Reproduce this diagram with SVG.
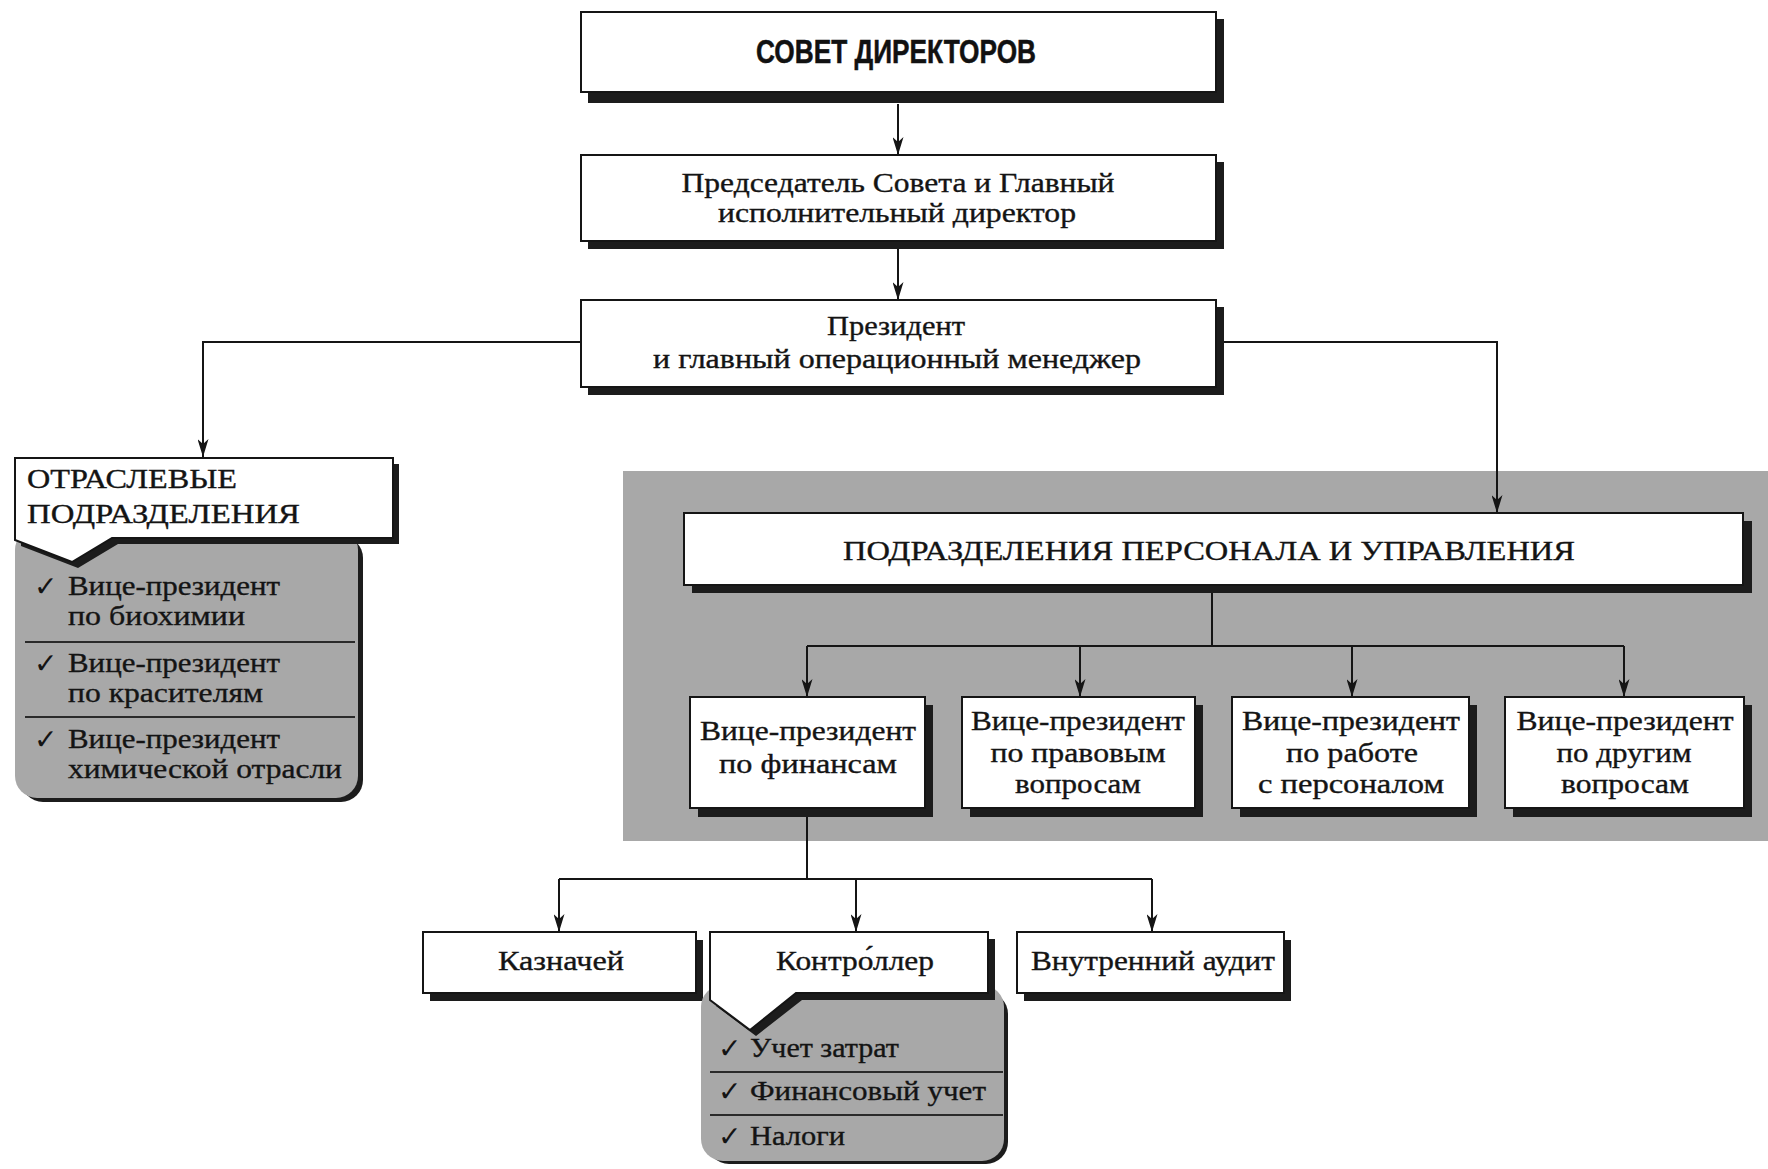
<svg xmlns="http://www.w3.org/2000/svg" width="1768" height="1169" viewBox="0 0 1768 1169">
<defs>
<style>
.box{fill:#fff;stroke:#151515;stroke-width:2}
.sh{fill:#1c1c1c}
.gray{fill:#a8a8a8}
.t{font-family:"Liberation Serif","Times New Roman",serif;font-size:27px;fill:#141414;text-anchor:middle;stroke:#141414;stroke-width:0.35}
.tl{font-family:"Liberation Serif","Times New Roman",serif;font-size:27px;fill:#141414;text-anchor:start;stroke:#141414;stroke-width:0.35}
.ck{font-family:"DejaVu Sans",sans-serif;font-size:28px;fill:#141414}
.sep{stroke:#2a2a2a;stroke-width:2}
.conn{stroke:#151515;stroke-width:2;fill:none}
.arr{stroke:#151515;stroke-width:2;fill:none;marker-end:url(#ah)}
</style>
<marker id="ah" viewBox="0 0 18 11" refX="18" refY="5.5" markerWidth="18" markerHeight="11" markerUnits="userSpaceOnUse" orient="auto">
<path d="M0,0 L18,5.5 L0,11 L5,5.5 Z" fill="#151515"/>
</marker>
</defs>
<rect width="1768" height="1169" fill="#fff"/>

<g id="staff-panel">
<rect x="623" y="471" width="1145" height="370" class="gray"/>
</g>

<g id="connectors">
<path class="arr" d="M898,104 V155"/>
<path class="arr" d="M898,249 V300"/>
<path class="arr" d="M581,342 H203 V457"/>
<path class="arr" d="M1216,342 H1497 V513"/>
<path class="conn" d="M1212,593 V646 M807,646 H1624"/>
<path class="arr" d="M807,646 V697"/>
<path class="arr" d="M1080,646 V697"/>
<path class="arr" d="M1352,646 V697"/>
<path class="arr" d="M1624,646 V697"/>
<path class="conn" d="M807,817 V879 M559,879 H1152"/>
<path class="arr" d="M559,879 V932"/>
<path class="arr" d="M856,879 V932"/>
<path class="arr" d="M1152,879 V932"/>
</g>

<g id="board">
<rect x="588" y="19" width="636" height="84" class="sh"/>
<rect x="581" y="12" width="635" height="80" class="box"/>
<text x="896" y="63" font-family="Liberation Sans,Arial,sans-serif" font-weight="bold" font-size="33" fill="#111" stroke="#111" stroke-width="0.5" text-anchor="middle" textLength="280" lengthAdjust="spacingAndGlyphs">СОВЕТ ДИРЕКТОРОВ</text>
</g>

<g id="chairman">
<rect x="588" y="162" width="636" height="87" class="sh"/>
<rect x="581" y="155" width="635" height="86" class="box"/>
<text x="898" y="192" class="t" textLength="433" lengthAdjust="spacingAndGlyphs">Председатель Совета и Главный</text>
<text x="897" y="222" class="t" textLength="358" lengthAdjust="spacingAndGlyphs">исполнительный директор</text>
</g>

<g id="president">
<rect x="588" y="307" width="636" height="88" class="sh"/>
<rect x="581" y="300" width="635" height="87" class="box"/>
<text x="896" y="335" class="t" textLength="138" lengthAdjust="spacingAndGlyphs">Президент</text>
<text x="897" y="368" class="t" textLength="488" lengthAdjust="spacingAndGlyphs">и главный операционный менеджер</text>
</g>

<g id="line-divisions">
<rect x="21" y="536" width="342" height="266" rx="22" class="sh"/>
<rect x="15" y="528" width="343" height="270" rx="22" class="gray"/>
<line x1="25" y1="642" x2="355" y2="642" class="sep"/>
<line x1="25" y1="717" x2="355" y2="717" class="sep"/>
<path d="M21,464 H399 V544 H118 L78,568 L21,546 Z" class="sh"/>
<path d="M15,458 H393 V538 H112 L72,562 L15,540 Z" class="box"/>
<text x="27" y="488" class="tl" textLength="210" lengthAdjust="spacingAndGlyphs">ОТРАСЛЕВЫЕ</text>
<text x="27" y="523" class="tl" textLength="273" lengthAdjust="spacingAndGlyphs">ПОДРАЗДЕЛЕНИЯ</text>
<text x="34" y="596" class="ck">✓</text>
<text x="68" y="595" class="tl" textLength="212" lengthAdjust="spacingAndGlyphs">Вице-президент</text>
<text x="68" y="625" class="tl" textLength="177" lengthAdjust="spacingAndGlyphs">по биохимии</text>
<text x="34" y="673" class="ck">✓</text>
<text x="68" y="672" class="tl" textLength="212" lengthAdjust="spacingAndGlyphs">Вице-президент</text>
<text x="68" y="702" class="tl" textLength="195" lengthAdjust="spacingAndGlyphs">по красителям</text>
<text x="34" y="749" class="ck">✓</text>
<text x="68" y="748" class="tl" textLength="212" lengthAdjust="spacingAndGlyphs">Вице-президент</text>
<text x="68" y="778" class="tl" textLength="274" lengthAdjust="spacingAndGlyphs">химической отрасли</text>
</g>

<g id="staff-units">
<rect x="692" y="521" width="1060" height="72" class="sh"/>
<rect x="684" y="513" width="1059" height="72" class="box"/>
<text x="1209" y="560" class="t" textLength="732" lengthAdjust="spacingAndGlyphs">ПОДРАЗДЕЛЕНИЯ ПЕРСОНАЛА И УПРАВЛЕНИЯ</text>
</g>

<g id="vp-finance">
<rect x="698" y="705" width="235" height="112" class="sh"/>
<rect x="690" y="697" width="235" height="111" class="box"/>
<text x="808" y="740" class="t" textLength="216" lengthAdjust="spacingAndGlyphs">Вице-президент</text>
<text x="808" y="773" class="t" textLength="178" lengthAdjust="spacingAndGlyphs">по финансам</text>
</g>

<g id="vp-legal">
<rect x="970" y="705" width="233" height="112" class="sh"/>
<rect x="962" y="697" width="233" height="111" class="box"/>
<text x="1078" y="730" class="t" textLength="214" lengthAdjust="spacingAndGlyphs">Вице-президент</text>
<text x="1078" y="762" class="t" textLength="175" lengthAdjust="spacingAndGlyphs">по правовым</text>
<text x="1078" y="793" class="t" textLength="126" lengthAdjust="spacingAndGlyphs">вопросам</text>
</g>

<g id="vp-hr">
<rect x="1240" y="705" width="237" height="112" class="sh"/>
<rect x="1232" y="697" width="237" height="111" class="box"/>
<text x="1351" y="730" class="t" textLength="218" lengthAdjust="spacingAndGlyphs">Вице-президент</text>
<text x="1352" y="762" class="t" textLength="132" lengthAdjust="spacingAndGlyphs">по работе</text>
<text x="1351" y="793" class="t" textLength="186" lengthAdjust="spacingAndGlyphs">с персоналом</text>
</g>

<g id="vp-other">
<rect x="1513" y="705" width="239" height="112" class="sh"/>
<rect x="1505" y="697" width="239" height="111" class="box"/>
<text x="1625" y="730" class="t" textLength="217" lengthAdjust="spacingAndGlyphs">Вице-президент</text>
<text x="1624" y="762" class="t" textLength="135" lengthAdjust="spacingAndGlyphs">по другим</text>
<text x="1625" y="793" class="t" textLength="128" lengthAdjust="spacingAndGlyphs">вопросам</text>
</g>

<g id="treasurer">
<rect x="430" y="940" width="273" height="61" class="sh"/>
<rect x="423" y="932" width="273" height="61" class="box"/>
<text x="561" y="970" class="t" textLength="126" lengthAdjust="spacingAndGlyphs">Казначей</text>
</g>

<g id="controller">
<rect x="707" y="992" width="301" height="172" rx="22" class="sh"/>
<rect x="701" y="985" width="303" height="176" rx="22" class="gray"/>
<line x1="710" y1="1072" x2="1003" y2="1072" class="sep"/>
<line x1="710" y1="1115" x2="1003" y2="1115" class="sep"/>
<path d="M716,939 H995 V1000 H802 L756,1036 L716,1006 Z" class="sh"/>
<path d="M710,932 H988 V993 H796 L750,1030 L710,1000 Z" class="box"/>
<text x="855" y="970" class="t" textLength="158" lengthAdjust="spacingAndGlyphs">Контро́ллер</text>
<text x="718" y="1058" class="ck">✓</text>
<text x="750" y="1057" class="tl" textLength="149" lengthAdjust="spacingAndGlyphs">Учет затрат</text>
<text x="718" y="1101" class="ck">✓</text>
<text x="750" y="1100" class="tl" textLength="236" lengthAdjust="spacingAndGlyphs">Финансовый учет</text>
<text x="718" y="1146" class="ck">✓</text>
<text x="750" y="1145" class="tl" textLength="95" lengthAdjust="spacingAndGlyphs">Налоги</text>
</g>

<g id="internal-audit">
<rect x="1024" y="940" width="267" height="61" class="sh"/>
<rect x="1017" y="932" width="267" height="61" class="box"/>
<text x="1153" y="970" class="t" textLength="244" lengthAdjust="spacingAndGlyphs">Внутренний аудит</text>
</g>
</svg>
